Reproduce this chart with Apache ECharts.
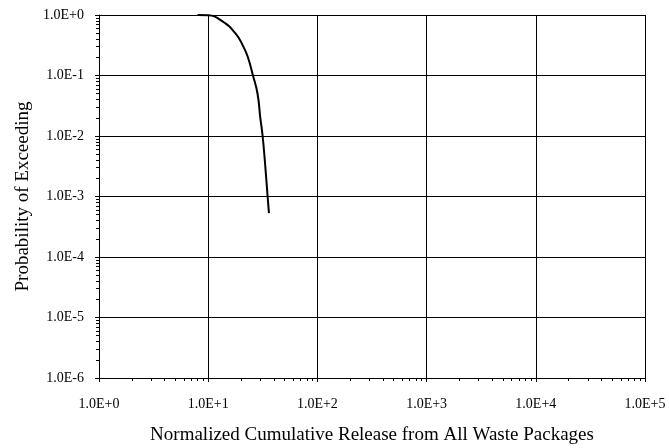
<!DOCTYPE html>
<html>
<head>
<meta charset="utf-8">
<script src="https://cdn.jsdelivr.net/npm/echarts@6/dist/echarts.min.js"></script>
<style>
  html, body { margin: 0; padding: 0; background: #fff; }
  #chart { width: 669px; height: 448px; }
</style>
</head>
<body>
<div id="chart"></div>
<script>
// release values (x) and probability of exceeding (y)
const releaseValues = [8, 10, 13.3, 17.7, 21, 23.1, 25.7, 28.3, 30, 31.5, 33.4, 35, 36];
const exceedProb = [1.0, 0.99, 0.8, 0.5, 0.3, 0.2, 0.1, 0.05, 0.02, 0.01, 0.003, 0.001, 0.00053];

const xTickLabels = { 1: '1.0E+0', 10: '1.0E+1', 100: '1.0E+2', 1000: '1.0E+3', 10000: '1.0E+4', 100000: '1.0E+5' };
const yTickLabels = { 1: '1.0E+0', 0.1: '1.0E-1', 0.01: '1.0E-2', 0.001: '1.0E-3', 0.0001: '1.0E-4', 0.00001: '1.0E-5', 0.000001: '1.0E-6' };

function findLabel(map, v) {
  for (const k in map) {
    if (Math.abs(Math.log10(v) - Math.log10(Number(k))) < 1e-6) return map[k];
  }
  return '';
}

const font = '"Liberation Serif", "Times New Roman", serif';

const chart = echarts.init(document.getElementById('chart'));
chart.setOption({
  animation: false,
  backgroundColor: '#fff',
  grid: { left: 99, top: 15, right: 24, bottom: 70, containLabel: false, outerBoundsMode: 'none' },
  xAxis: {
    type: 'log',
    logBase: 10,
    min: 1,
    max: 100000,
    name: 'Normalized Cumulative Release from All Waste Packages',
    nameLocation: 'middle',
    nameGap: 57,
    nameTextStyle: { fontFamily: font, fontSize: 19, color: '#000', verticalAlign: 'middle' },
    axisLine: { lineStyle: { color: '#000', width: 1 } },
    axisTick: { show: true, inside: false, length: 4, lineStyle: { color: '#000' } },
    minorTick: { show: true, splitNumber: 9, length: 3, lineStyle: { color: '#000' } },
    axisLabel: {
      fontFamily: font, fontSize: 14, color: '#000', margin: 19,
      formatter: v => findLabel(xTickLabels, v)
    },
    splitLine: { show: true, lineStyle: { color: '#000', width: 1 } }
  },
  yAxis: {
    type: 'log',
    logBase: 10,
    min: 0.000001,
    max: 1,
    name: 'Probability of Exceeding',
    nameLocation: 'middle',
    nameGap: 76,
    nameTextStyle: { fontFamily: font, fontSize: 19, color: '#000', verticalAlign: 'middle' },
    axisLine: { show: true, lineStyle: { color: '#000', width: 1 } },
    axisTick: { show: true, inside: false, length: 4, lineStyle: { color: '#000' } },
    minorTick: { show: true, splitNumber: 9, length: 3, lineStyle: { color: '#000' } },
    axisLabel: {
      fontFamily: font, fontSize: 14, color: '#000', margin: 15,
      formatter: v => findLabel(yTickLabels, v)
    },
    splitLine: { show: true, lineStyle: { color: '#000', width: 1 } }
  },
  series: [{
    type: 'line',
    data: releaseValues.map((x, i) => [x, exceedProb[i]]),
    smooth: 0.5,
    showSymbol: false,
    lineStyle: { color: '#000', width: 2 }
  }]
});
</script>
</body>
</html>
